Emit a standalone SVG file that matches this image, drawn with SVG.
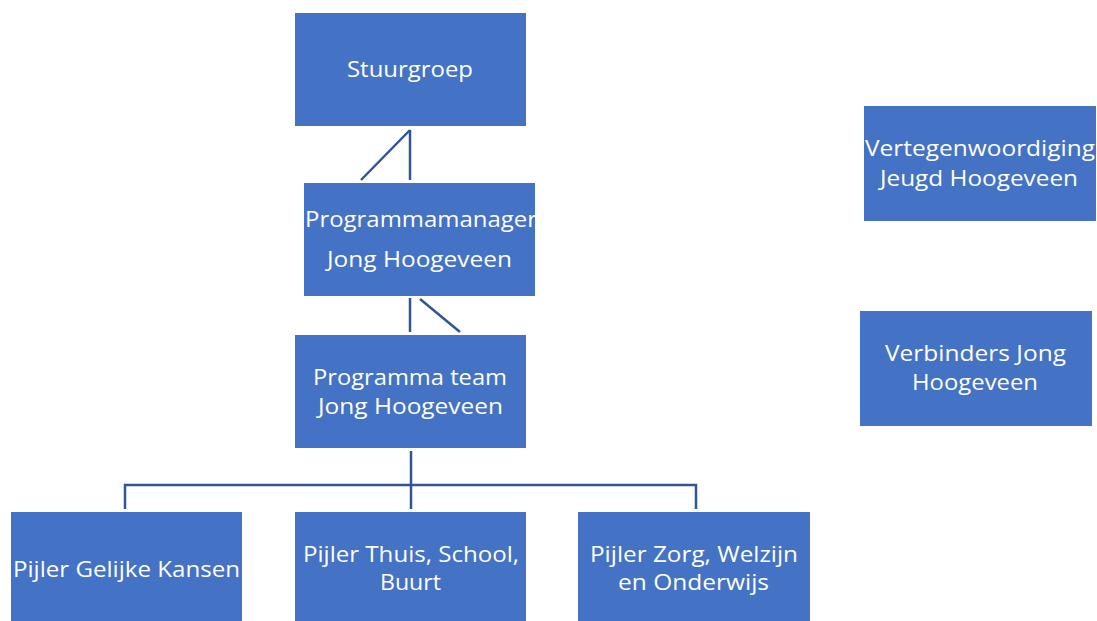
<svg xmlns="http://www.w3.org/2000/svg" width="1097" height="621" viewBox="0 0 1097 621">
<style>
.box{fill:#4472C4;}
.t{font-family:"Open Sans","Noto Sans",sans-serif;font-size:21px;fill:#FFFFFF;text-anchor:middle;}
.c{stroke:#2F5597;stroke-width:2.5;fill:none;}
</style>
<rect width="1097" height="621" fill="#FFFFFF"/>
<g id="connectors">
<line class="c" x1="410" y1="130" x2="410" y2="180"/>
<line class="c" x1="410" y1="130" x2="361" y2="180"/>
<line class="c" x1="410" y1="298" x2="410" y2="332"/>
<line class="c" x1="420" y1="299" x2="460" y2="332"/>
<line class="c" x1="411" y1="451" x2="411" y2="509"/>
<polyline class="c" points="125,509 125,485 696,485 696,509"/>
</g>
<g id="stuurgroep">
<rect class="box" x="295" y="13" width="231" height="113"/>
<text class="t" x="410" y="77" textLength="126" lengthAdjust="spacingAndGlyphs">Stuurgroep</text>
</g>
<g id="programmamanager">
<rect class="box" x="304" y="183" width="231" height="113"/>
<text class="t" x="421" y="227" textLength="232" lengthAdjust="spacingAndGlyphs">Programmamanager</text>
<text class="t" x="419.5" y="267" textLength="185" lengthAdjust="spacingAndGlyphs">Jong Hoogeveen</text>
</g>
<g id="programmateam">
<rect class="box" x="295" y="335" width="231" height="113"/>
<text class="t" x="410" y="385" textLength="194" lengthAdjust="spacingAndGlyphs">Programma team</text>
<text class="t" x="410.5" y="414" textLength="185" lengthAdjust="spacingAndGlyphs">Jong Hoogeveen</text>
</g>
<g id="vertegenwoordiging">
<rect class="box" x="864" y="106" width="232" height="115"/>
<text class="t" x="980" y="156" textLength="230" lengthAdjust="spacingAndGlyphs">Vertegenwoordiging</text>
<text class="t" x="979" y="186" textLength="198" lengthAdjust="spacingAndGlyphs">Jeugd Hoogeveen</text>
</g>
<g id="verbinders">
<rect class="box" x="860" y="311" width="232" height="115"/>
<text class="t" x="975.5" y="361" textLength="181" lengthAdjust="spacingAndGlyphs">Verbinders Jong</text>
<text class="t" x="975" y="390" textLength="126" lengthAdjust="spacingAndGlyphs">Hoogeveen</text>
</g>
<g id="pijler-gelijke-kansen">
<rect class="box" x="11" y="512" width="231" height="112"/>
<text class="t" x="126.5" y="577" textLength="227" lengthAdjust="spacingAndGlyphs">Pijler Gelijke Kansen</text>
</g>
<g id="pijler-thuis">
<rect class="box" x="295" y="512" width="231" height="112"/>
<text class="t" x="411" y="562" textLength="216" lengthAdjust="spacingAndGlyphs">Pijler Thuis, School,</text>
<text class="t" x="410.5" y="590" textLength="61" lengthAdjust="spacingAndGlyphs">Buurt</text>
</g>
<g id="pijler-zorg">
<rect class="box" x="578" y="512" width="232" height="112"/>
<text class="t" x="694" y="562" textLength="208" lengthAdjust="spacingAndGlyphs">Pijler Zorg, Welzijn</text>
<text class="t" x="693.5" y="590" textLength="151" lengthAdjust="spacingAndGlyphs">en Onderwijs</text>
</g>
</svg>
